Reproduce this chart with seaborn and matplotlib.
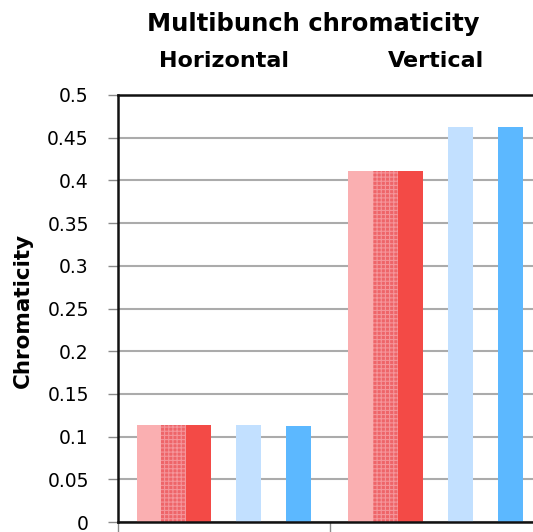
import numpy as np
import pandas as pd
import matplotlib
matplotlib.use("Agg")
import matplotlib.pyplot as plt
import matplotlib.transforms as mtransforms
import seaborn as sns

# Chromaticity per plane; blank series keep the spacing between bar groups
planes = ["Horizontal", "Vertical"]
series = ["Case A", "Case B", "Case C", "gap 1", "Case D", "gap 2", "Case E"]
case_a = [0.1138, 0.4114]
case_b = [0.1138, 0.4114]
case_c = [0.1138, 0.4114]
case_d = [0.1138, 0.4621]
case_e = [0.1126, 0.4629]
y_ticks = [0, 0.05, 0.1, 0.15, 0.2, 0.25, 0.3, 0.35, 0.4, 0.45, 0.5]
y_tick_labels = ["0", "0.05", "0.1", "0.15", "0.2", "0.25", "0.3", "0.35", "0.4", "0.45", "0.5"]

colors = {
    "Case A": "#FAAFB1",
    "Case B": "#EE6569",
    "Case C": "#F34A46",
    "gap 1": "#FFFFFF",
    "Case D": "#C2E0FF",
    "gap 2": "#FFFFFF",
    "Case E": "#5CB8FF",
}

values = {
    "Case A": case_a, "Case B": case_b, "Case C": case_c,
    "gap 1": [np.nan, np.nan], "Case D": case_d,
    "gap 2": [np.nan, np.nan], "Case E": case_e,
}
rows = []
for s in series:
    for p, v in zip(planes, values[s]):
        rows.append({"plane": p, "series": s, "chromaticity": v})
df = pd.DataFrame(rows)

sns.set_style("white")
plt.rcParams["font.family"] = ["DejaVu Sans"]
plt.rcParams["text.color"] = "black"
plt.rcParams["hatch.linewidth"] = 0.8

fig = plt.figure(figsize=(5.33, 5.32), dpi=100)
W, H = 533, 532
ax = fig.add_axes([118 / W, 10 / H, 423.5 / W, 427 / H])

sns.barplot(data=df.dropna(), x="plane", y="chromaticity", hue="series",
            order=planes, hue_order=series, palette=colors, width=0.825,
            gap=0, linewidth=0, legend=False, ax=ax, saturation=1)

# checkered fill for the second series
for bar in ax.patches:
    fc = matplotlib.colors.to_hex(bar.get_facecolor())
    if fc.lower() == colors["Case B"].lower():
        bar.set_hatch("++++")
        bar.set_edgecolor("#F5959A")
        bar.set_linewidth(0)

ax.set_xlim(-0.5, 1.5)
ax.set_ylim(0, 0.5)
ax.set_yticks(y_ticks)
ax.set_yticklabels(y_tick_labels, fontsize=13.5, color="black")
ax.set_xticks([-0.5, 0.5, 1.5])
ax.set_xticklabels([])
ax.set_xlabel("")
ax.set_ylabel("Chromaticity", fontsize=15.5, fontweight="bold", color="black")
ax.yaxis.set_label_coords(-(118 - 33) / 423.5, (522 - 310) / 427)

ax.set_axisbelow(True)
ax.yaxis.grid(True, color="#ABABAB", linewidth=1.5)
ax.tick_params(axis="y", which="major", length=7, width=1, color="#8A8A8A",
               pad=14, left=True)
ax.tick_params(axis="x", which="major", length=7, width=1, color="#8A8A8A",
               bottom=True)

for side in ["left", "bottom", "top"]:
    ax.spines[side].set_visible(True)
    ax.spines[side].set_color("#111111")
    ax.spines[side].set_linewidth(1.8)
ax.spines["right"].set_visible(False)

# plane names above each group
name_tr = mtransforms.blended_transform_factory(ax.transData, fig.transFigure)
for i, name in enumerate(planes):
    ax.text(i, 1 - 67 / H, name, transform=name_tr, ha="center",
            va="baseline", fontsize=16, fontweight="bold", color="black")

fig.text(313 / W, 1 - 31 / H, "Multibunch chromaticity", ha="center",
         va="baseline", fontsize=17.5, fontweight="bold", color="black")

fig.savefig("out.png", dpi=100)
